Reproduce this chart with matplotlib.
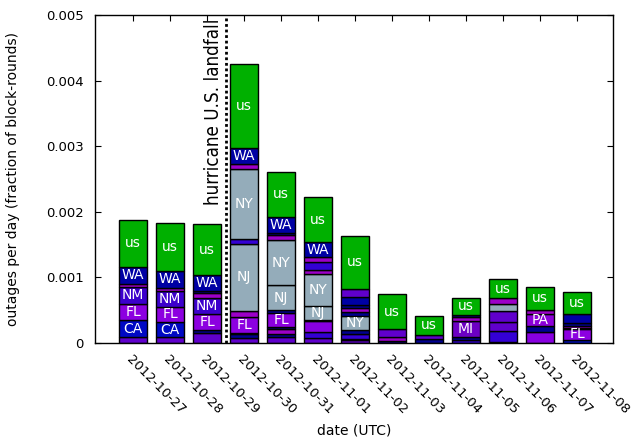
import matplotlib
matplotlib.use("Agg")
import matplotlib.pyplot as plt
import matplotlib.transforms as mtransforms

# ---------------- data ----------------
dates = ["2012-10-27", "2012-10-28", "2012-10-29", "2012-10-30", "2012-10-31",
         "2012-11-01", "2012-11-02", "2012-11-03", "2012-11-04", "2012-11-05",
         "2012-11-06", "2012-11-07", "2012-11-08"]

# segment heights per day, bottom to top (fraction of block-rounds)
seg_values = [
    [0.090e-3, 0.260e-3, 0.245e-3, 0.259e-3, 0.045e-3, 0.260e-3, 0.716e-3],
    [0.090e-3, 0.230e-3, 0.233e-3, 0.240e-3, 0.053e-3, 0.254e-3, 0.725e-3],
    [0.150e-3, 0.050e-3, 0.242e-3, 0.238e-3, 0.080e-3, 0.033e-3, 0.244e-3, 0.773e-3],
    [0.076e-3, 0.061e-3, 0.013e-3, 0.242e-3, 0.103e-3, 1.014e-3, 0.076e-3, 1.063e-3,
     0.076e-3, 0.253e-3, 1.273e-3],
    [0.096e-3, 0.034e-3, 0.080e-3, 0.030e-3, 0.210e-3, 0.053e-3, 0.381e-3, 0.686e-3,
     0.070e-3, 0.040e-3, 0.245e-3, 0.685e-3],
    [0.080e-3, 0.083e-3, 0.167e-3, 0.020e-3, 0.214e-3, 0.483e-3, 0.073e-3, 0.120e-3,
     0.066e-3, 0.229e-3, 0.685e-3],
    [0.050e-3, 0.010e-3, 0.077e-3, 0.061e-3, 0.212e-3, 0.060e-3, 0.060e-3, 0.050e-3,
     0.126e-3, 0.117e-3, 0.813e-3],
    [0.035e-3, 0.052e-3, 0.122e-3, 0.533e-3],
    [0.061e-3, 0.061e-3, 0.294e-3],
    [0.050e-3, 0.037e-3, 0.253e-3, 0.050e-3, 0.037e-3, 0.263e-3],
    [0.020e-3, 0.163e-3, 0.142e-3, 0.163e-3, 0.107e-3, 0.086e-3, 0.289e-3],
    [0.172e-3, 0.087e-3, 0.183e-3, 0.061e-3, 0.355e-3],
    [0.050e-3, 0.160e-3, 0.024e-3, 0.030e-3, 0.036e-3, 0.137e-3, 0.336e-3],
]

# text shown on each segment ('' = none)
seg_labels = [
    ["", "CA", "FL", "NM", "", "WA", "us"],
    ["", "CA", "FL", "NM", "", "WA", "us"],
    ["", "", "FL", "NM", "", "", "WA", "us"],
    ["", "", "", "FL", "", "NJ", "", "NY", "", "WA", "us"],
    ["", "", "", "", "FL", "", "NJ", "NY", "", "", "WA", "us"],
    ["", "", "", "", "NJ", "NY", "", "", "", "WA", "us"],
    ["", "", "", "", "NY", "", "", "", "", "", "us"],
    ["", "", "", "us"],
    ["", "", "us"],
    ["", "", "MI", "", "", "us"],
    ["", "", "", "", "", "", "us"],
    ["", "", "PA", "", "us"],
    ["", "FL", "", "", "", "", "us"],
]

# colour group of each segment
seg_groups = [
    ["v", "CA", "FL", "NM", "s", "WA", "us"],
    ["v", "CA", "FL", "NM", "s", "WA", "us"],
    ["v", "n", "FL", "NM", "s", "n", "WA", "us"],
    ["v", "n", "y", "FL", "s", "NJ", "b", "NY", "s", "WA", "us"],
    ["v", "n", "s", "n", "FL", "n", "NJ", "NY", "s", "n", "WA", "us"],
    ["v", "b", "p", "n", "NJ", "NY", "s", "b", "s", "WA", "us"],
    ["v", "n", "b", "n", "NY", "n", "s", "n", "WA", "v", "us"],
    ["n", "s", "v", "us"],
    ["n", "v", "us"],
    ["b", "n", "MI", "s", "n", "us"],
    ["n", "b", "v", "v", "NY", "s", "us"],
    ["p", "n", "PA", "s", "us"],
    ["bl", "FL", "n", "s", "n", "WA", "us"],
]

yticks = [0, 0.001, 0.002, 0.003, 0.004, 0.005]
ytick_labels = ["0", "0.001", "0.002", "0.003", "0.004", "0.005"]
landfall_pos = 2.5
landfall_text = "hurricane U.S. landfall"

# ---------------- style ----------------
colors = {
    "us": "#00b000", "WA": "#0000a4", "CA": "#0008c4", "NM": "#3c00cc",
    "FL": "#8c00e0", "NY": "#94acba", "NJ": "#94acba", "MI": "#6c00c4",
    "PA": "#8c00d8", "v": "#6000cc", "s": "#9c00c8", "n": "#000090",
    "b": "#3400d4", "y": "#a0e000", "p": "#8800e0", "bl": "#0010c8",
}

plt.rcParams["font.family"] = ["DejaVu Sans"]
fig = plt.figure(figsize=(6.41, 4.40), dpi=100)
ax = fig.add_axes([95 / 641, 1 - 343 / 440, (613 - 95) / 641, (343 - 15) / 440])

width = 0.76
for i, (vals, labs, grps) in enumerate(zip(seg_values, seg_labels, seg_groups)):
    bottom = 0.0
    for v, lab, g in zip(vals, labs, grps):
        ax.bar(i, v, width=width, bottom=bottom, color=colors[g],
               edgecolor="black", linewidth=1.0, zorder=2)
        if lab:
            ax.text(i, bottom + v / 2, lab, ha="center", va="center",
                    color="white", fontsize=10, zorder=3)
        bottom += v

ax.set_xlim(-1.03, 12.97)
ax.set_ylim(0, 0.005)
ax.set_yticks(yticks)
ax.set_yticklabels(ytick_labels)
ax.set_xticks(range(len(dates)))
ax.set_xticklabels(dates, rotation=-45, ha="left", va="top",
                   rotation_mode="anchor")
offset = mtransforms.ScaledTranslation(-3 / 100, 2 / 100, fig.dpi_scale_trans)
for lbl in ax.get_xticklabels():
    lbl.set_transform(lbl.get_transform() + offset)

ax.tick_params(direction="in", length=4, width=0.8, top=True, right=True,
               labelsize=9.5, colors="black")
ax.tick_params(axis="x", pad=7)
ax.tick_params(axis="y", pad=8)
for sp in ax.spines.values():
    sp.set_linewidth(1.0)

ax.axvline(landfall_pos, color="black", linestyle=(0, (1, 1)), linewidth=2,
           zorder=4)
ax.text(landfall_pos - 0.07, 0.99, landfall_text, transform=ax.get_xaxis_transform(),
        rotation=90, ha="right", va="top", fontsize=13.5, fontstretch="condensed")

ax.set_xlabel("date (UTC)", fontsize=10, labelpad=5)
ax.set_ylabel("outages per day (fraction of block-rounds)", fontsize=10, labelpad=19)

fig.savefig("out.png", dpi=100)
